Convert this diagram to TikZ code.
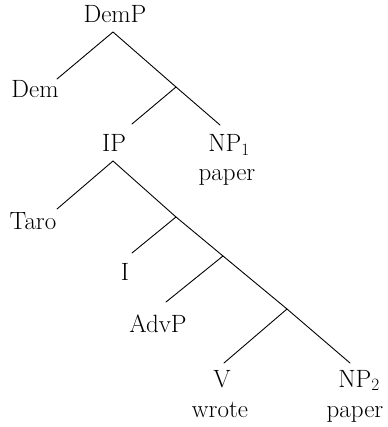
\documentclass[tikz,border=0pt]{standalone}
\begin{document}
\begin{tikzpicture}[x=1pt,y=-1pt,
  lab/.style={font=\fontsize{25}{28}\selectfont, inner sep=0pt, anchor=base},
  branch/.style={line width=0.9pt, line cap=round}]
\useasboundingbox (0,0) rectangle (387,427);

% labels
\node[lab] (DemP)   at (115,23)  {DemP};
\node[lab] (Dem)    at (35,98)   {Dem};
\node[lab] (IP)     at (114,152) {IP};
\node[lab] (NPa)    at (229,152) {NP$_1$};
\node[lab] (papera) at (227,181) {paper};
\node[lab] (Taro)   at (33,229)  {Taro};
\node[lab] (I)      at (125,280) {I};
\node[lab] (AdvP)   at (158,332) {AdvP};
\node[lab] (V)      at (222,387) {V};
\node[lab] (wrote)  at (220,417) {wrote};
\node[lab] (NPb)    at (359,387) {NP$_2$};
\node[lab] (paperb) at (355,417) {paper};

% branching points and branch ends
\coordinate (DemPr)  at (113,32);
\coordinate (Demt)   at (57,79);
\coordinate (na)     at (176,87);
\coordinate (IPt)    at (132,124);
\coordinate (NPat)   at (220,125);
\coordinate (IPr)    at (113,161);
\coordinate (Tarot)  at (57,209);
\coordinate (nb)     at (176,217);
\coordinate (It)     at (132,253);
\coordinate (nc)     at (223,256);
\coordinate (AdvPt)  at (166,302);
\coordinate (nd)     at (287,309);
\coordinate (Vt)     at (224,363);
\coordinate (NPbt)   at (350,363);

% branches
\draw[branch] (Demt) -- (DemPr) -- (na) -- (NPat);
\draw[branch] (na) -- (IPt);
\draw[branch] (Tarot) -- (IPr) -- (nb) -- (nc) -- (nd) -- (NPbt);
\draw[branch] (nb) -- (It);
\draw[branch] (nc) -- (AdvPt);
\draw[branch] (nd) -- (Vt);
\end{tikzpicture}
\end{document}
